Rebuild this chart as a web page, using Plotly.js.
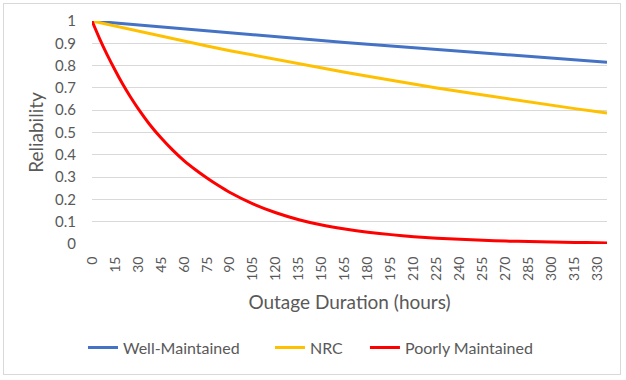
<!DOCTYPE html>
<html>
<head>
<meta charset="utf-8">
<script src="https://cdn.plot.ly/plotly-3.0.1.min.js"></script>
<style>
  html, body { margin: 0; padding: 0; background: #fff; }
  #wrap { position: relative; width: 626px; height: 380px; }
  #chart { width: 626px; height: 380px; }
  #frame { position: absolute; left: 3px; top: 3px; width: 618px; height: 372px;
           border: 1px solid #d9d9d9; box-sizing: border-box; pointer-events: none; }
</style>
</head>
<body>
<div id="wrap"><div id="chart"></div><div id="frame"></div></div>
<script>
// Outage duration (hours) sample points
const hoursWM = [0, 15, 30, 45, 60, 75, 90, 105, 120, 135, 150, 165, 180, 195, 210, 225, 240, 255, 270, 285, 300, 315, 330, 336];
const wellMaintained = [1.000, 0.991, 0.982, 0.973, 0.964, 0.955, 0.947, 0.938, 0.929, 0.921, 0.913, 0.904, 0.896, 0.888, 0.880, 0.872, 0.864, 0.856, 0.848, 0.840, 0.833, 0.825, 0.818, 0.815];
const nrc = [1.000, 0.977, 0.954, 0.931, 0.909, 0.888, 0.867, 0.847, 0.827, 0.807, 0.788, 0.770, 0.752, 0.734, 0.717, 0.700, 0.684, 0.668, 0.652, 0.637, 0.622, 0.607, 0.593, 0.587];
const hoursPM = [0, 5, 10, 15, 20, 25, 30, 37.5, 45, 52.5, 60, 67.5, 75, 82.5, 90, 105, 120, 135, 150, 165, 180, 195, 210, 225, 240, 255, 270, 285, 300, 315, 330, 336];
const poorlyMaintained = [1.000, 0.920, 0.847, 0.780, 0.717, 0.660, 0.608, 0.537, 0.476, 0.422, 0.374, 0.333, 0.296, 0.262, 0.231, 0.180, 0.140, 0.109, 0.085, 0.067, 0.053, 0.042, 0.033, 0.026, 0.021, 0.017, 0.013, 0.011, 0.009, 0.007, 0.006, 0.005];
const xTicks = [0, 15, 30, 45, 60, 75, 90, 105, 120, 135, 150, 165, 180, 195, 210, 225, 240, 255, 270, 285, 300, 315, 330];
const yTicks = [0, 0.1, 0.2, 0.3, 0.4, 0.5, 0.6, 0.7, 0.8, 0.9, 1];

const FONT = 'Lato, "Open Sans", sans-serif';
const GREY = '#595959';

const traces = [
  { x: hoursWM, y: wellMaintained, name: 'Well-Maintained', type: 'scatter', mode: 'lines',
    line: { color: '#4472C4', width: 3 }, legend: 'legend' },
  { x: hoursWM, y: nrc, name: 'NRC', type: 'scatter', mode: 'lines',
    line: { color: '#FFC000', width: 3 }, legend: 'legend2' },
  { x: hoursPM, y: poorlyMaintained, name: 'Poorly Maintained', type: 'scatter', mode: 'lines',
    line: { color: '#FF0000', width: 3, shape: 'spline', smoothing: 0.5 }, legend: 'legend3' }
];

function leg(x) {
  return { orientation: 'h', x: x, xanchor: 'left', y: -0.465, yanchor: 'middle',
           bgcolor: 'rgba(0,0,0,0)', font: { family: FONT, size: 16, color: GREY }, itemwidth: 30 };
}

const layout = {
  width: 626, height: 380,
  margin: { l: 92, r: 19, t: 21, b: 136 },
  paper_bgcolor: '#ffffff', plot_bgcolor: '#ffffff',
  font: { family: FONT, color: GREY, size: 14 },
  showlegend: true,
  legend: leg(-0.0175),
  legend2: leg(0.3456),
  legend3: leg(0.530),
  xaxis: {
    range: [0, 336], tickmode: 'array', tickvals: xTicks, ticktext: xTicks.map(String),
    tickangle: -90, ticks: 'outside', ticklen: 6, tickcolor: 'rgba(0,0,0,0)',
    showgrid: false, zeroline: false, showline: false,
    tickfont: { family: FONT, size: 14, color: GREY },
    title: { text: 'Outage Duration (hours)', font: { family: FONT, size: 19, color: GREY }, standoff: 15 }
  },
  yaxis: {
    range: [0, 1], tickmode: 'array', tickvals: yTicks, ticktext: yTicks.map(String),
    ticks: 'outside', ticklen: 12, tickcolor: 'rgba(0,0,0,0)',
    showgrid: true, gridcolor: '#d9d9d9', gridwidth: 1, zeroline: false, showline: false,
    tickfont: { family: FONT, size: 15, color: GREY },
    title: { text: 'Reliability', font: { family: FONT, size: 19, color: GREY }, standoff: 6 }
  }
};

Plotly.newPlot('chart', traces, layout, { staticPlot: true, displayModeBar: false });
</script>
</body>
</html>
